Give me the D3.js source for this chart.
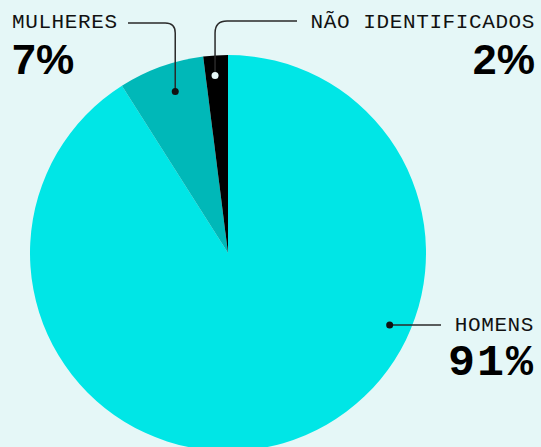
<!DOCTYPE html>
<html><head><meta charset="utf-8">
<script src="https://cdn.jsdelivr.net/npm/d3@7"></script>
<style>
html,body{margin:0;padding:0;background:#e5f7f7;}
svg{display:block;}
</style></head>
<body>
<svg id="chart" width="541" height="447"></svg>
<script>
const categories = ["HOMENS", "MULHERES", "NÃO IDENTIFICADOS"];
const values = [91, 7, 2];
const labels = ["91%", "7%", "2%"];
const colors = ["#00e6e6", "#00b8b8", "#000000"];

const W = 541, H = 447;
const cx = 228, cy = 253, R = 198;
const svg = d3.select("#chart");
svg.append("rect").attr("width", W).attr("height", H).attr("fill", "#e5f7f7");

const pie = d3.pie().sort(null).value(d => d)(values);
const arc = d3.arc().innerRadius(0).outerRadius(R);
const g = svg.append("g").attr("transform", `translate(${cx},${cy})`);
g.selectAll("path").data(pie).join("path")
  .attr("d", arc).attr("fill", (d, i) => colors[i]);

function pt(angle, r) { return [cx + r * Math.sin(angle), cy - r * Math.cos(angle)]; }
const midA = d => (d.startAngle + d.endAngle) / 2;

const lineColor = "#2a2a2a";
const ann = svg.append("g");

// MULHERES
{
  const p = pt(midA(pie[1]) + 0.03, 170);
  const y0 = 23, x0 = 128, rr = 10;
  ann.append("path").attr("fill", "none").attr("stroke", lineColor).attr("stroke-width", 1.5)
    .attr("d", `M${x0},${y0} H${p[0] - rr} Q${p[0]},${y0} ${p[0]},${y0 + rr} V${p[1]}`);
  ann.append("circle").attr("cx", p[0]).attr("cy", p[1]).attr("r", 3.5).attr("fill", "#111");
}
// NÃO IDENTIFICADOS
{
  const p = pt(midA(pie[2]) - 0.01, 178);
  const y0 = 21, x0 = 297, rr = 12;
  ann.append("path").attr("fill", "none").attr("stroke", lineColor).attr("stroke-width", 1.5)
    .attr("d", `M${x0},${y0} H${p[0] + rr} Q${p[0]},${y0} ${p[0]},${y0 + rr} V${p[1]}`);
  ann.append("circle").attr("cx", p[0]).attr("cy", p[1]).attr("r", 3.5).attr("fill", "#e5f7f7");
}
// HOMENS
{
  const p = pt(1.99, 177);
  ann.append("path").attr("fill", "none").attr("stroke", lineColor).attr("stroke-width", 1.5)
    .attr("d", `M441,${p[1]} H${p[0]}`);
  ann.append("circle").attr("cx", p[0]).attr("cy", p[1]).attr("r", 3.5).attr("fill", "#111");
}

const monoFont = "'Liberation Mono', 'DejaVu Sans Mono', monospace";
const sansFont = "'Liberation Sans', Arial, sans-serif";
function catText(x, y, anchor, t) {
  svg.append("text").attr("x", x).attr("y", y).attr("text-anchor", anchor)
    .attr("font-family", monoFont).attr("font-size", 21).attr("letter-spacing", 0.6)
    .attr("fill", "#111").text(t);
}
function pctText(x, y, anchor, t, font, size, ls) {
  svg.append("text").attr("x", x).attr("y", y).attr("text-anchor", anchor)
    .attr("font-family", font).attr("font-weight", "bold").attr("font-size", size)
    .attr("letter-spacing", ls).attr("fill", "#000").text(t);
}
catText(12, 28, "start", categories[1]);
pctText(12, 74, "start", labels[1], sansFont, 43, 0);
catText(535, 28, "end", categories[2]);
pctText(535, 74, "end", labels[2], sansFont, 43, 0);
catText(534, 331, "end", categories[0]);
pctText(535, 375, "end", labels[0], monoFont, 45, 2);
</script>
</body></html>
